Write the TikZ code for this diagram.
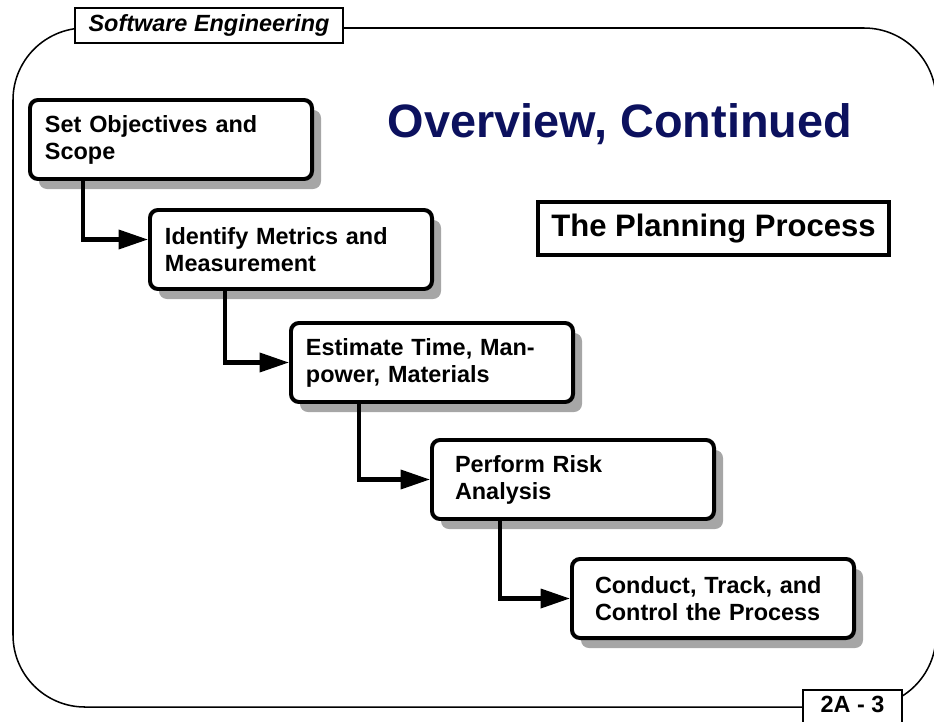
\documentclass[tikz,border=0pt]{standalone}
\usepackage{fontspec}
\setmainfont{Liberation Sans}
\usetikzlibrary{arrows.meta,shadows}
\definecolor{titleblue}{RGB}{12,17,94}
\definecolor{shadowgray}{RGB}{166,166,166}

\begin{document}
\begin{tikzpicture}[x=0.03cm, y=-0.03cm,
	stage/.style={draw, line width=3.4pt, rounded corners=0.24cm, fill=white, anchor=north west,
		minimum width=8.46cm, minimum height=2.37cm, text width=#1, align=left, inner sep=0pt,
		font=\fontsize{20}{23}\selectfont\bfseries,
		drop shadow={shadow xshift=0.27cm, shadow yshift=-0.3cm, fill=shadowgray, opacity=1}},
	stage/.default=7.56cm,
	tag/.style={draw, line width=1.3pt, fill=white, inner sep=0pt, font=\fontsize{20}{20}\selectfont\bfseries},
	flow/.style={line width=3.6pt, -{Triangle[length=25pt, width=16pt]}}]
	\useasboundingbox (0,0) rectangle (934,721);

	% slide frame and its two tags
	\draw [line width=1.3pt, rounded corners=2.16cm] (13,28) rectangle (936,707);
	\node [tag, font=\fontsize{20}{20}\selectfont\bfseries\itshape, minimum width=8.04cm, minimum height=1.05cm] (course) at (209,25.5) {Software Engineering};
	\node [tag, anchor=north, minimum width=2.97cm, inner ysep=0.18cm, text depth=0.7cm] (page) at (852.5,689) {2A - 3};

	\node [font=\fontsize{40}{40}\selectfont\bfseries, text=titleblue] (title) at (620,124) {Overview, Continued};
	\node [draw, line width=3pt, minimum width=10.53cm, minimum height=1.59cm, font=\fontsize{26.5}{26.5}\selectfont\bfseries] (plan) at (713.5,228.5) {The Planning Process};

	% the five steps
	\node [stage] (s1) at (28,98) {Set Objectives and\\Scope};
	\node [stage] (s2) at (148,208) {Identify Metrics and\\Measurement};
	\node [stage] (s3) at (289,321) {Estimate Time, Man-\\power, Materials};
	\node [stage=7.08cm] (s4) at (430,438) {Perform Risk\\Analysis};
	\node [stage=7.08cm] (s5) at (570,557) {Conduct, Track, and\\Control the Process};

	\draw [flow] ([xshift=1.65cm]s1.south west) |- ([yshift=0.3cm]s2.west);
	\draw [flow] ([xshift=2.31cm]s2.south west) |- (s3.west);
	\draw [flow] ([xshift=2.1cm]s3.south west) |- (s4.west);
	\draw [flow] ([xshift=2.1cm]s4.south west) |- (s5.west);
\end{tikzpicture}
\end{document}
